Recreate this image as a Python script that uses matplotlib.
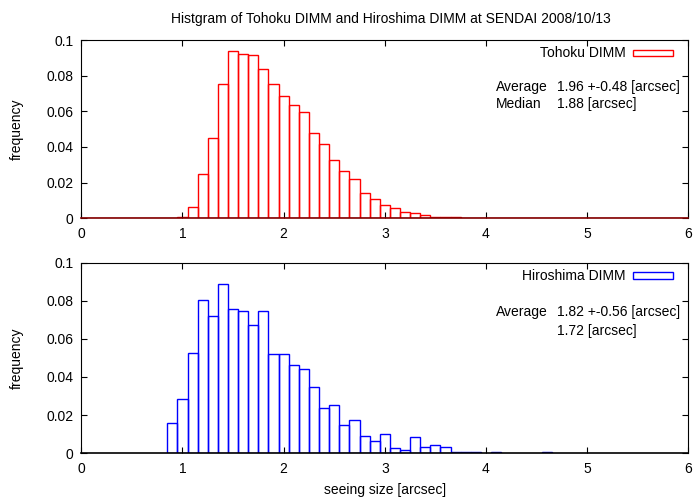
import numpy as np
import matplotlib
matplotlib.use("Agg")
import matplotlib.pyplot as plt
from matplotlib.patches import Rectangle

plt.rcParams['font.family'] = ['Liberation Sans', 'DejaVu Sans']

# ---- data -------------------------------------------------------------
# bin centres of every 0.1 arcsec bin drawn for the Tohoku histogram
tohoku_bins = np.round(np.arange(0.0, 6.01, 0.1), 1)
# non-empty Tohoku bins (1.0 ... 3.9) and their frequencies
tohoku_nonzero_bins = [1.0, 1.1, 1.2, 1.3, 1.4, 1.5, 1.6, 1.7, 1.8, 1.9,
                       2.0, 2.1, 2.2, 2.3, 2.4, 2.5, 2.6, 2.7, 2.8, 2.9,
                       3.0, 3.1, 3.2, 3.3, 3.4, 3.5, 3.6, 3.7, 3.8, 3.9]
tohoku_nonzero_freq = [0.0006, 0.0065, 0.0247, 0.0449, 0.0755, 0.0938, 0.0921,
                       0.0914, 0.0839, 0.0751, 0.0688, 0.0634, 0.0594, 0.0477,
                       0.0416, 0.0325, 0.0263, 0.0223, 0.0141, 0.0109, 0.0073,
                       0.0056, 0.0037, 0.0028, 0.0021, 0.0009, 0.0007, 0.0007,
                       0.0004, 0.0001]

hiroshima_bins = [0.9, 1.0, 1.1, 1.2, 1.3, 1.4, 1.5, 1.6, 1.7, 1.8, 1.9,
                  2.0, 2.1, 2.2, 2.3, 2.4, 2.5, 2.6, 2.7, 2.8, 2.9,
                  3.0, 3.1, 3.2, 3.3, 3.4, 3.5, 3.6, 3.7, 3.8, 3.9, 4.1, 4.6]
hiroshima_freq = [0.0159, 0.0282, 0.0528, 0.0801, 0.0717, 0.0887, 0.0754,
                  0.0745, 0.0670, 0.0745, 0.0518, 0.0518, 0.0463, 0.0443,
                  0.0348, 0.0235, 0.0254, 0.0150, 0.0177, 0.0093, 0.0065,
                  0.0101, 0.0028, 0.0019, 0.0084, 0.0035, 0.0045, 0.0035,
                  0.0009, 0.0009, 0.0009, 0.0009, 0.0009]

tohoku_stats = ("1.96 +-0.48 [arcsec]", "1.88 [arcsec]")
hiroshima_stats = ("1.82 +-0.56 [arcsec]", "1.72 [arcsec]")

x_ticks = [0, 1, 2, 3, 4, 5, 6]
y_ticks = [0, 0.02, 0.04, 0.06, 0.08, 0.1]
y_ticklabels = ["0", "0.02", "0.04", "0.06", "0.08", "0.1"]

# full Tohoku series, empty bins included (they are drawn as flat boxes)
lookup = dict(zip(tohoku_nonzero_bins, tohoku_nonzero_freq))
tohoku_freq = [lookup.get(b, 0.0) for b in tohoku_bins]

# ---- figure -----------------------------------------------------------
W, H = 693, 497
fig = plt.figure(figsize=(W / 100, H / 100), dpi=100)
FS = 10


def px_axes(left, top, right, bottom):
    return fig.add_axes([left / W, 1 - bottom / H, (right - left) / W, (bottom - top) / H])


ax_top = px_axes(81.3, 40.0, 688.3, 218.3)
ax_bot = px_axes(81.3, 262.5, 688.3, 453.3)


def style_axes(ax, base_color):
    ax.set_xlim(0, 6)
    ax.set_ylim(0, 0.1)
    ax.set_xticks(x_ticks)
    ax.set_xticklabels([str(t) for t in x_ticks])
    ax.set_yticks(y_ticks)
    ax.set_yticklabels(y_ticklabels)
    ax.tick_params(direction='in', length=4.5, width=0.8, top=True, right=True,
                   labelsize=FS, colors='black')
    ax.tick_params(axis='x', pad=6.5)
    ax.tick_params(axis='y', pad=5.5)
    for s in ax.spines.values():
        s.set_linewidth(0.8)
        s.set_color('black')
    ax.spines['bottom'].set_color(base_color)
    ax.spines['bottom'].set_linewidth(1.2)
    ax.set_ylabel("frequency", fontsize=FS)
    ax.yaxis.set_label_coords(-(81.3 - 24) / 607, 0.5)


def key(ax, label, color, h_px):
    xr = (626 - 81.3) / 607
    yc = 1 - 13 / h_px
    ax.text(xr, yc, label, ha='right', va='center', fontsize=FS, transform=ax.transAxes)
    x0 = (632.5 - 81.3) / 607
    w = (673 - 632.5) / 607
    hh = 6.4 / h_px
    ax.add_patch(Rectangle((x0, yc - hh / 2), w, hh, transform=ax.transAxes,
                           fill=False, edgecolor=color, linewidth=1.0, clip_on=False))


def stats(ax, avg, med, show_median):
    ax.text(4.1, 0.0739, "Average", ha='left', va='center', fontsize=FS)
    ax.text(4.7, 0.0739, avg, ha='left', va='center', fontsize=FS)
    if show_median:
        ax.text(4.1, 0.0639, "Median", ha='left', va='center', fontsize=FS)
    ax.text(4.7, 0.0639, med, ha='left', va='center', fontsize=FS)


# Tohoku DIMM
ax_top.bar(tohoku_bins, tohoku_freq, width=0.1, fill=False,
           edgecolor='#ff0000', linewidth=1.0)
style_axes(ax_top, '#800000')
key(ax_top, "Tohoku DIMM", '#ff0000', 218.3 - 40.0)
stats(ax_top, tohoku_stats[0], tohoku_stats[1], True)

# Hiroshima DIMM
ax_bot.bar(hiroshima_bins, hiroshima_freq, width=0.1, fill=False,
           edgecolor='#0000ff', linewidth=1.0)
style_axes(ax_bot, 'black')
key(ax_bot, "Hiroshima DIMM", '#0000ff', 453.3 - 262.5)
stats(ax_bot, hiroshima_stats[0], hiroshima_stats[1], False)

fig.text(391 / W, 1 - 19.5 / H,
         "Histgram of Tohoku DIMM and Hiroshima DIMM at SENDAI 2008/10/13",
         ha='center', va='center', fontsize=FS)
fig.text(385 / W, 1 - 490 / H, "seeing size [arcsec]",
         ha='center', va='center', fontsize=FS)

fig.savefig("out.png", dpi=100, facecolor='white')
